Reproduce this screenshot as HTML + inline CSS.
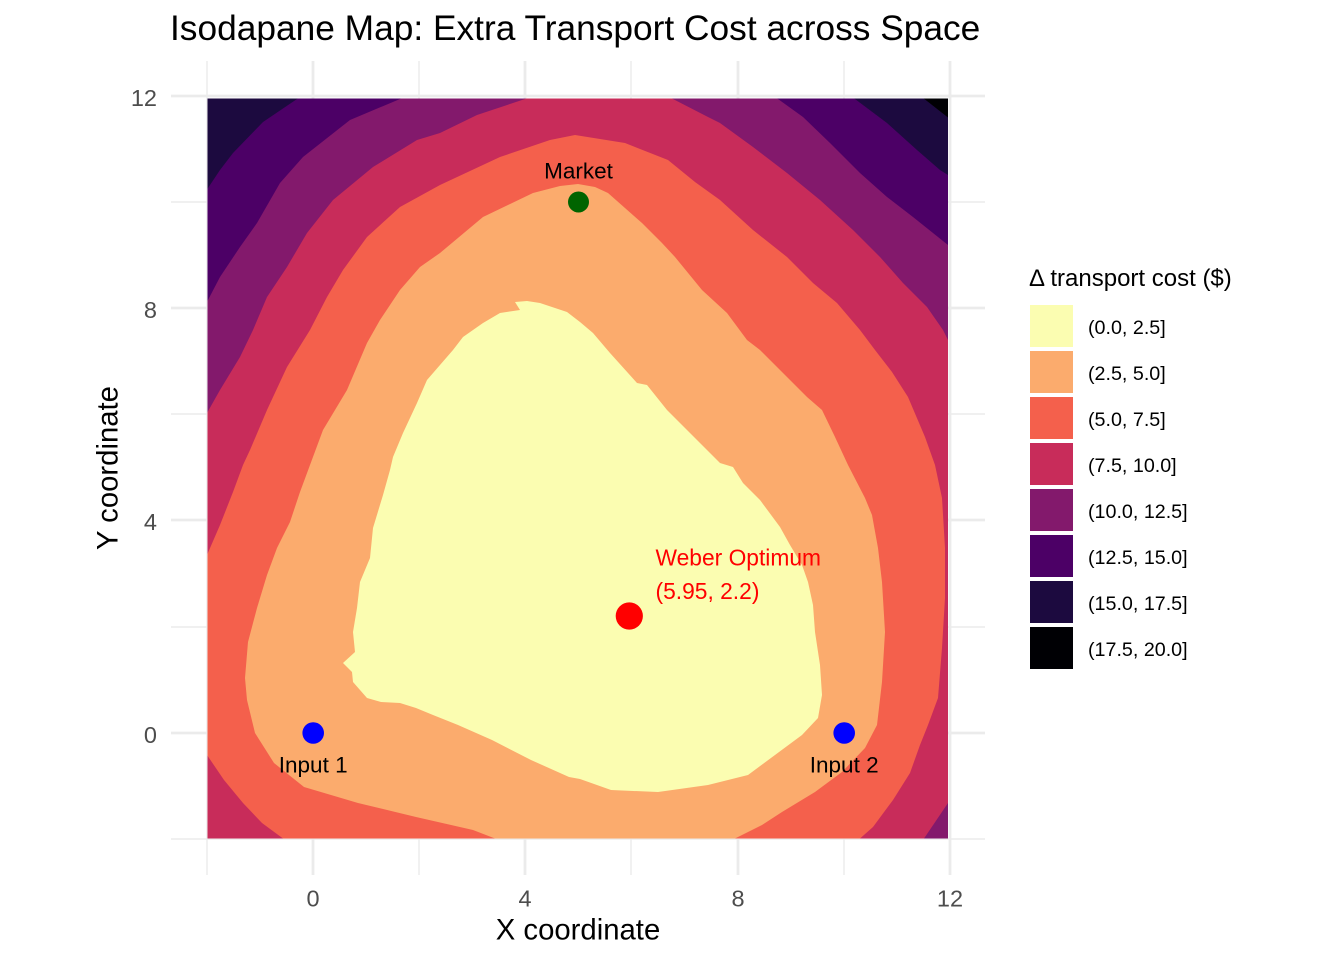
<!DOCTYPE html>
<html>
<head>
<meta charset="utf-8">
<style>
  html, body { margin: 0; padding: 0; background: #ffffff; }
  svg { display: block; }
  text { font-family: "Liberation Sans", Arial, sans-serif; }
</style>
</head>
<body>
<svg width="1344" height="960" viewBox="0 0 1344 960" xmlns="http://www.w3.org/2000/svg">
  <rect x="0" y="0" width="1344" height="960" fill="#ffffff"/>
  <defs>
    <clipPath id="fillclip">
      <rect x="207.5" y="98.5" width="740.5" height="740"/>
    </clipPath>
  </defs>

  <!-- minor gridlines -->
  <g stroke="#EBEBEB" stroke-width="1.4" fill="none">
    <line x1="171" y1="202" x2="985" y2="202"/>
    <line x1="171" y1="414" x2="985" y2="414"/>
    <line x1="171" y1="627" x2="985" y2="627"/>
    <line x1="171" y1="839" x2="985" y2="839"/>
    <line x1="207" y1="61" x2="207" y2="875"/>
    <line x1="419" y1="61" x2="419" y2="875"/>
    <line x1="631" y1="61" x2="631" y2="875"/>
    <line x1="844" y1="61" x2="844" y2="875"/>
  </g>
  <!-- major gridlines -->
  <g stroke="#EBEBEB" stroke-width="2.8" fill="none">
    <line x1="171" y1="96" x2="985" y2="96"/>
    <line x1="171" y1="308" x2="985" y2="308"/>
    <line x1="171" y1="520" x2="985" y2="520"/>
    <line x1="171" y1="733" x2="985" y2="733"/>
    <line x1="313" y1="61" x2="313" y2="875"/>
    <line x1="525" y1="61" x2="525" y2="875"/>
    <line x1="738" y1="61" x2="738" y2="875"/>
    <line x1="950" y1="61" x2="950" y2="875"/>
  </g>

  <!-- filled contours -->
  <g clip-path="url(#fillclip)" stroke="none">
    <rect x="200" y="90" width="760" height="760" fill="#000004"/>
    <!-- <=17.5 -->
    <polygon fill="#1C0A3F" points="200,90 913,90 960,127 960,850 200,850"/>
    <!-- <=15 -->
    <polygon fill="#4C0066" points="310,90 842,90 855,99 887,123 917,150 940,170 948,175 960,183 960,850 200,850 200,200 208,188 220,170 233,153 263,122 297,99"/>
    <!-- <=12.5 -->
    <polygon fill="#83196C" points="415,90 765,90 778,99 803,117 830,143 860,173 887,197 913,217 948,245 960,253 960,850 200,850 200,310 208,300 220,277 240,247 257,223 280,183 303,157 350,120 400,99"/>
    <!-- <=10 -->
    <polygon fill="#C82C5A" points="540,90 655,90 673,99 708,117 720,123 753,147 787,173 820,200 853,230 880,257 903,283 927,307 943,330 948,340 960,360 960,790 948,803 924,838.5 915,850 200,850 200,425 207,413 220,390 240,357 253,330 267,297 287,267 307,233 333,200 373,167 417,140 440,133 477,115 525,99"/>
    <!-- <=7.5 -->
    <polygon fill="#F4604C" points="575,135 625,143 668,160 695,182 720,200 753,230 787,257 813,283 837,303 860,330 875,350 892,372 908,397 925,437 935,465 942,498 945,548 945,598 942,648 938,698 928,725 920,745 910,773 893,800 873,827 860,838.5 850,850 290,850 283,838.5 262,823 243,803 224,780 207,755 200,745 200,565 207,555 220,525 233,492 243,465 250,450 267,410 287,367 310,330 327,297 343,270 367,237 400,207 440,185 500,157 550,140"/>
    <!-- <=5 -->
    <polygon fill="#FBAB6D" points="483,217 533,193 560,186 578,184 595,187 608,193 642,223 662,243 675,257 702,290 727,313 747,340 760,350 777,367 793,383 807,397 822,410 835,437 848,465 865,498 872,515 878,548 882,582 885,632 882,682 877,725 865,748 842,772 815,792 782,812 762,825 735,838.5 730,850 500,850 495,838.5 473,830 416,817 358,803 304,787 274,763 255,733 247,700 245,678 248,642 257,608 267,575 277,548 290,522 300,492 310,465 323,430 347,390 367,343 380,320 400,290 420,267 440,253"/>
    <!-- <=2.5 -->
    <polygon fill="#FBFDB1" points="515,302 527,301 540,303 555,308 567,312 580,322 593,333 610,353 637,383 647,385 667,410 687,430 697,440 720,463 733,467 743,483 760,500 780,527 790,545 802,565 808,582 813,605 815,632 820,665 822,695 818,718 802,735 775,755 748,775 708,785 658,792 611,790 580,779 569,777 531,760 492,740 458,725 433,715 416,708 400,703 381,702 367,698 353,682 352,672 343,663 355,652 353,632 357,608 360,582 370,558 373,528 383,495 390,470 393,457 403,433 417,403 427,380 453,350 463,337 483,323 500,313 520,310"/>
  </g>

  <!-- points -->
  <circle cx="578.5" cy="202" r="10.5" fill="#006400"/>
  <circle cx="313.2" cy="733" r="10.8" fill="#0000FF"/>
  <circle cx="844.2" cy="733" r="10.8" fill="#0000FF"/>
  <circle cx="629.3" cy="616" r="13.6" fill="#FF0000"/>

  <!-- point labels -->
  <g font-size="22.5" fill="#000000" text-anchor="middle">
    <text x="578.5" y="178.3">Market</text>
    <text x="313.2" y="772.5">Input 1</text>
    <text x="844.2" y="772.5">Input 2</text>
  </g>
  <g font-size="22.8" fill="#FF0000">
    <text x="655.5" y="565.7">Weber Optimum</text>
    <text x="655.5" y="599">(5.95, 2.2)</text>
  </g>

  <!-- title -->
  <text x="170" y="40" font-size="35.3" fill="#000000">Isodapane Map: Extra Transport Cost across Space</text>

  <!-- y tick labels -->
  <g font-size="23.5" fill="#4D4D4D" text-anchor="end">
    <text x="157" y="106">12</text>
    <text x="157" y="318">8</text>
    <text x="157" y="530">4</text>
    <text x="157" y="743">0</text>
  </g>
  <!-- x tick labels -->
  <g font-size="23.5" fill="#4D4D4D" text-anchor="middle">
    <text x="313" y="906.5">0</text>
    <text x="525" y="906.5">4</text>
    <text x="738" y="906.5">8</text>
    <text x="950" y="906.5">12</text>
  </g>

  <!-- axis titles -->
  <text x="578" y="939.5" font-size="29.3" fill="#000000" text-anchor="middle">X coordinate</text>
  <text transform="translate(117.3,468) rotate(-90)" font-size="29.3" fill="#000000" text-anchor="middle">Y coordinate</text>

  <!-- legend -->
  <text x="1029" y="286" font-size="24" fill="#000000">Δ transport cost ($)</text>
  <g stroke="none">
    <rect x="1030" y="305" width="43" height="42" fill="#FBFDB1"/>
    <rect x="1030" y="351" width="43" height="42" fill="#FBAB6D"/>
    <rect x="1030" y="397" width="43" height="42" fill="#F4604C"/>
    <rect x="1030" y="443" width="43" height="42" fill="#C82C5A"/>
    <rect x="1030" y="489" width="43" height="42" fill="#83196C"/>
    <rect x="1030" y="535" width="43" height="42" fill="#4C0066"/>
    <rect x="1030" y="581" width="43" height="42" fill="#1C0A3F"/>
    <rect x="1030" y="627" width="43" height="42" fill="#000004"/>
  </g>
  <g font-size="19.7" fill="#000000">
    <text x="1088" y="334">(0.0, 2.5]</text>
    <text x="1088" y="380">(2.5, 5.0]</text>
    <text x="1088" y="426">(5.0, 7.5]</text>
    <text x="1088" y="472">(7.5, 10.0]</text>
    <text x="1088" y="518">(10.0, 12.5]</text>
    <text x="1088" y="564">(12.5, 15.0]</text>
    <text x="1088" y="610">(15.0, 17.5]</text>
    <text x="1088" y="656">(17.5, 20.0]</text>
  </g>
</svg>
</body>
</html>
